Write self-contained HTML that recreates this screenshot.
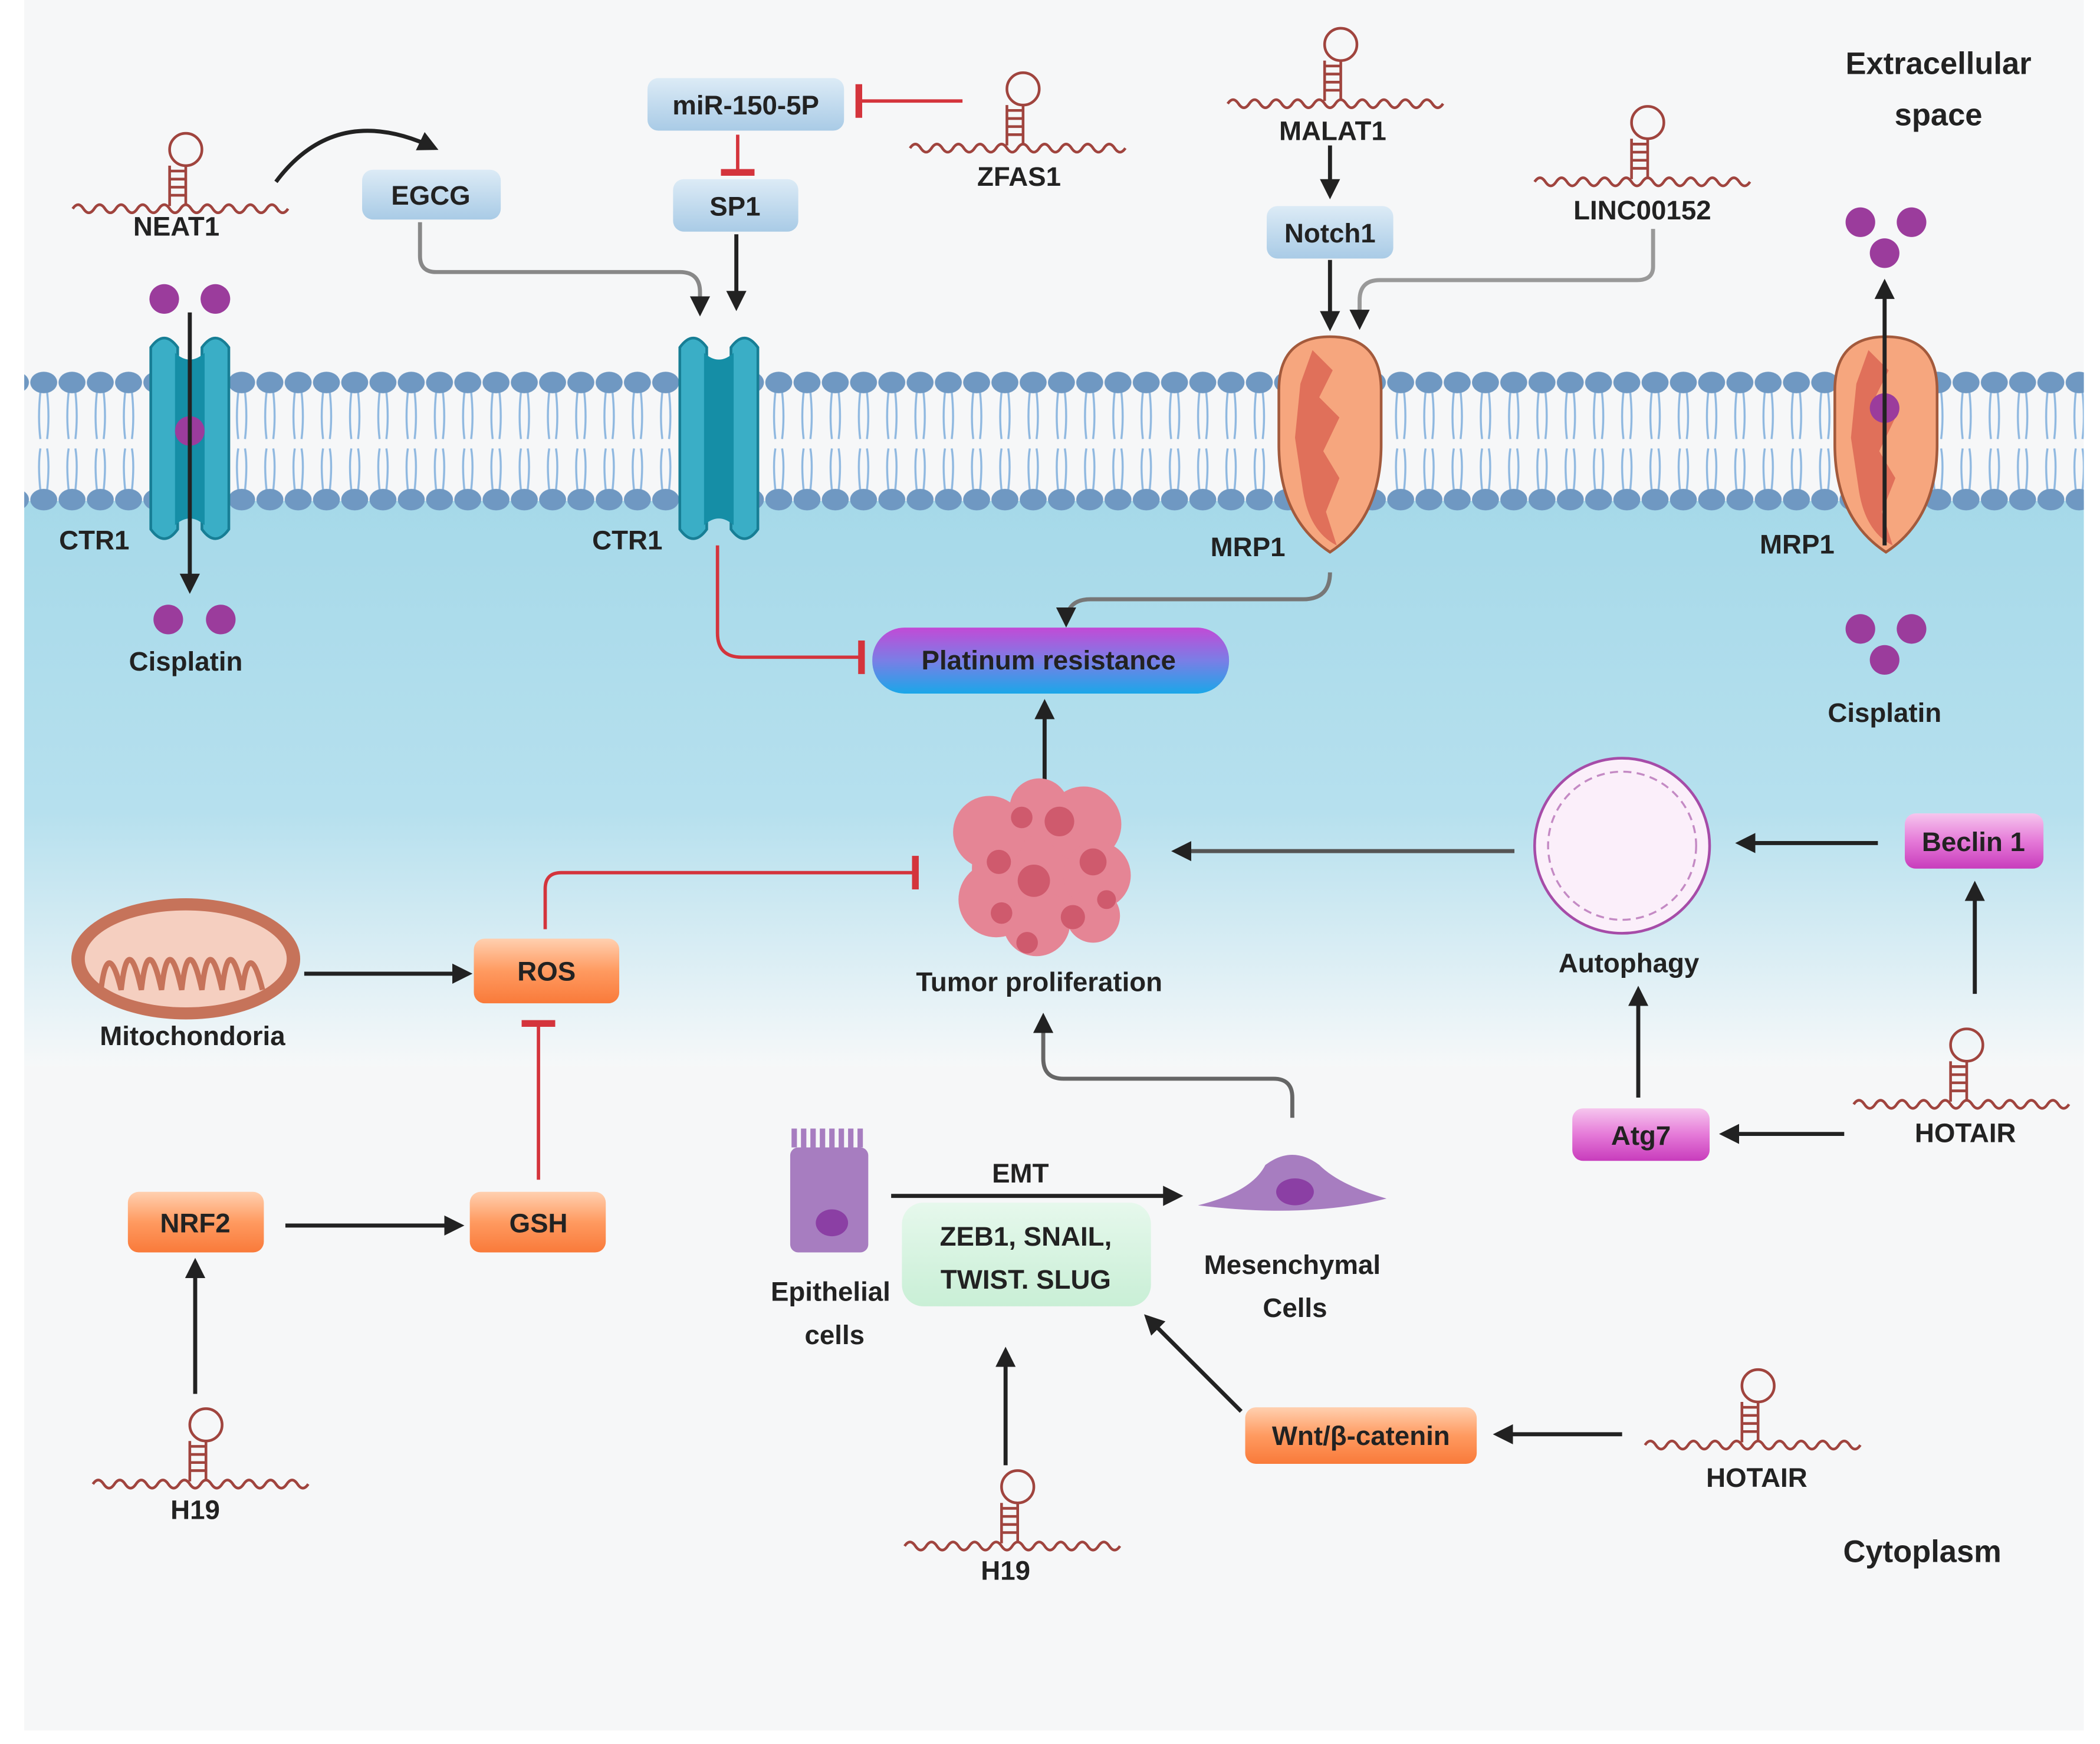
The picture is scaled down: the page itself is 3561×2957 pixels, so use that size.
<!DOCTYPE html>
<html><head><meta charset="utf-8"><style>
html,body{margin:0;padding:0;background:#fff;}
svg{display:block;}
text{font-family:"Liberation Sans",sans-serif;font-weight:bold;fill:#222;}
</style></head><body>
<svg width="3561" height="2957" viewBox="0 0 1560 1295" preserveAspectRatio="none" xmlns="http://www.w3.org/2000/svg">
<defs>
<linearGradient id="cyto" x1="0" y1="0" x2="0" y2="1">
<stop offset="0" stop-color="#a6d9e9"/><stop offset="0.55" stop-color="#b6e0ee"/><stop offset="1" stop-color="#f6f8f9"/></linearGradient>
<linearGradient id="blueBox" x1="0" y1="0" x2="0" y2="1"><stop offset="0" stop-color="#dcebf6"/><stop offset="1" stop-color="#a9cbe6"/></linearGradient>
<linearGradient id="orBox" x1="0" y1="0" x2="0" y2="1"><stop offset="0" stop-color="#ffd0b0"/><stop offset="0.5" stop-color="#ff9a60"/><stop offset="1" stop-color="#f97a3a"/></linearGradient>
<linearGradient id="magBox" x1="0" y1="0" x2="0" y2="1"><stop offset="0" stop-color="#f6c6ee"/><stop offset="0.5" stop-color="#e57ad8"/><stop offset="1" stop-color="#c83cbc"/></linearGradient>
<linearGradient id="plat" x1="0" y1="0" x2="0" y2="1"><stop offset="0" stop-color="#c24ad6"/><stop offset="0.5" stop-color="#7a7ee6"/><stop offset="1" stop-color="#1aa7e8"/></linearGradient>
<linearGradient id="grn" x1="0" y1="0" x2="0" y2="1"><stop offset="0" stop-color="#e6f8ec"/><stop offset="1" stop-color="#c9efd6"/></linearGradient>
<pattern id="lip" x="22" y="0" width="21" height="400" patternUnits="userSpaceOnUse">
<path d="M8 291 Q6 310 8 326 M13 291 Q15 310 13 326 M8 364 Q6 345 8 333 M13 364 Q15 345 13 333" stroke="#8fb8e0" stroke-width="1.5" fill="none"/>
<ellipse cx="10.5" cy="284" rx="10" ry="8" fill="#6f98c2"/>
<ellipse cx="10.5" cy="371" rx="10" ry="8" fill="#6f98c2"/>
</pattern>
<marker id="ah" viewBox="0 0 10 10" refX="8" refY="5" markerWidth="5" markerHeight="5" orient="auto"><path d="M0 0L10 5L0 10z" fill="#222"/></marker>
<marker id="tb" viewBox="0 0 4 20" refX="2" refY="10" markerWidth="2" markerHeight="10" orient="auto"><rect x="0" y="0" width="4" height="20" fill="#d4343c"/></marker>
<g id="rna">
<path d="M-78 10 q4 -6 8 0 t8 0 t8 0 t8 0 t8 0 t8 0 t8 0 t8 0 t8 0 t8 0 t8 0 t8 0 t8 0 t8 0 t8 0 t8 0 t8 0 t8 0 t8 0 t8 0" stroke="#a0443e" stroke-width="2" fill="none"/>
<path d="M-6 8 L-6 -22 M6 8 L6 -22 M-6 0H6 M-6 -6H6 M-6 -12H6 M-6 -18H6" stroke="#a0443e" stroke-width="2" fill="none"/>
<circle cx="6" cy="-34" r="12" stroke="#a0443e" stroke-width="2" fill="none"/>
</g>
</defs>
<rect x="0" y="0" width="1560" height="1295" fill="#fff"/>
<rect x="18" y="0" width="1530" height="1285" fill="#f6f7f8"/>
<rect x="18" y="372" width="1530" height="420" fill="url(#cyto)"/>
<rect x="18" y="272" width="1530" height="110" fill="url(#lip)"/>

<g id="ctr">
<path d="M112 258 q10 -14 20 0 v135 q-10 14 -20 0z" fill="#3aaec6" stroke="#177e95" stroke-width="2"/>
<path d="M150 258 q10 -14 20 0 v135 q-10 14 -20 0z" fill="#3aaec6" stroke="#177e95" stroke-width="2"/>
<path d="M130 262 q11 10 22 0 v128 q-11 -10 -22 0z" fill="#158ea6"/>
</g>
<use href="#ctr" x="393"/>
<g id="mrp">
<path d="M950 290 q0 -40 38 -40 q38 0 38 40 v40 q0 55 -38 80 q-38 -25 -38 -80z" fill="#f6a67e" stroke="#a35a3c" stroke-width="2"/>
<path d="M975 260 l15 15 -10 20 15 15 -12 25 12 20 -10 25 8 25 q-20 -10 -25 -40 l-6 -40 4 -40z" fill="#e0705a"/>
</g>
<use href="#mrp" x="413"/>

<g fill="#9b3c9c">
<circle cx="122" cy="222" r="11"/><circle cx="160" cy="222" r="11"/><circle cx="141" cy="320" r="11"/>
<circle cx="125" cy="460" r="11"/><circle cx="164" cy="460" r="11"/>
<circle cx="1382" cy="165" r="11"/><circle cx="1420" cy="165" r="11"/><circle cx="1400" cy="188" r="11"/>
<circle cx="1400" cy="303" r="11"/>
<circle cx="1382" cy="467" r="11"/><circle cx="1420" cy="467" r="11"/><circle cx="1400" cy="490" r="11"/>
</g>

<g stroke="#222" stroke-width="3" fill="none">
<path d="M141 232 V438" marker-end="url(#ah)"/>
<path d="M1400 405 V210" marker-end="url(#ah)"/>
<path d="M205 135 Q250 75 323 110" marker-end="url(#ah)"/>
<path d="M312 165 V190 q0 12 12 12 H505 q15 0 15 15 V232" stroke="#888" marker-end="url(#ah)"/>
<path d="M547 174 V228" marker-end="url(#ah)"/>
<path d="M988 108 V145" marker-end="url(#ah)"/>
<path d="M988 193 V243" marker-end="url(#ah)"/>
<path d="M1228 170 V198 q0 10 -12 10 H1025 q-15 0 -15 15 V242" stroke="#999" marker-end="url(#ah)"/>
<path d="M988 425 q0 20 -20 20 H810 q-18 0 -18 18" stroke="#777" marker-end="url(#ah)"/>
<path d="M776 585 V522" marker-end="url(#ah)"/>
<path d="M1125 632 H873" stroke="#555" marker-end="url(#ah)"/>
<path d="M1395 626 H1292" marker-end="url(#ah)"/>
<path d="M1467 738 V657" marker-end="url(#ah)"/>
<path d="M1217 815 V735" marker-end="url(#ah)"/>
<path d="M1370 842 H1280" marker-end="url(#ah)"/>
<path d="M226 723 H348" marker-end="url(#ah)"/>
<path d="M212 910 H342" marker-end="url(#ah)"/>
<path d="M145 1035 V937" marker-end="url(#ah)"/>
<path d="M662 888 H876" marker-end="url(#ah)"/>
<path d="M960 830 V815 q0 -14 -14 -14 H790 q-15 0 -15 -15 V755" stroke="#666" marker-end="url(#ah)"/>
<path d="M747 1088 V1003" marker-end="url(#ah)"/>
<path d="M922 1048 L852 978" marker-end="url(#ah)"/>
<path d="M1205 1065 H1112" marker-end="url(#ah)"/>
</g>
<g stroke="#d4343c" stroke-width="2.5" fill="none">
<path d="M715 75 H638" marker-end="url(#tb)"/>
<path d="M548 100 V128" marker-end="url(#tb)"/>
<path d="M533 405 V470 q0 18 18 18 H640" marker-end="url(#tb)"/>
<path d="M405 690 V660 q0 -12 12 -12 H680" marker-end="url(#tb)"/>
<path d="M400 876 V760" marker-end="url(#tb)"/>
</g>

<rect x="481" y="58" width="146" height="39" rx="8" fill="url(#blueBox)"/>
<text x="554" y="85" font-size="20" text-anchor="middle">miR-150-5P</text>
<rect x="500" y="133" width="93" height="39" rx="8" fill="url(#blueBox)"/>
<text x="546" y="160" font-size="20" text-anchor="middle">SP1</text>
<rect x="269" y="126" width="103" height="37" rx="8" fill="url(#blueBox)"/>
<text x="320" y="152" font-size="20" text-anchor="middle">EGCG</text>
<rect x="941" y="153" width="94" height="39" rx="8" fill="url(#blueBox)"/>
<text x="988" y="180" font-size="20" text-anchor="middle">Notch1</text>
<rect x="648" y="466" width="265" height="49" rx="24" fill="url(#plat)"/>
<text x="779" y="497" font-size="20" text-anchor="middle">Platinum resistance</text>
<rect x="352" y="697" width="108" height="48" rx="8" fill="url(#orBox)"/>
<text x="406" y="728" font-size="20" text-anchor="middle">ROS</text>
<rect x="95" y="885" width="101" height="45" rx="8" fill="url(#orBox)"/>
<text x="145" y="915" font-size="20" text-anchor="middle">NRF2</text>
<rect x="349" y="885" width="101" height="45" rx="8" fill="url(#orBox)"/>
<text x="400" y="915" font-size="20" text-anchor="middle">GSH</text>
<rect x="925" y="1045" width="172" height="42" rx="8" fill="url(#orBox)"/>
<text x="1011" y="1073" font-size="20" text-anchor="middle">Wnt/β-catenin</text>
<rect x="1415" y="604" width="103" height="41" rx="8" fill="url(#magBox)"/>
<text x="1466" y="632" font-size="20" text-anchor="middle">Beclin 1</text>
<rect x="1168" y="823" width="102" height="39" rx="8" fill="url(#magBox)"/>
<text x="1219" y="850" font-size="20" text-anchor="middle">Atg7</text>
<rect x="670" y="893" width="185" height="77" rx="16" fill="url(#grn)"/>
<text x="762" y="925" font-size="20" text-anchor="middle">ZEB1, SNAIL,</text>
<text x="762" y="957" font-size="20" text-anchor="middle">TWIST. SLUG</text>

<g fill="#e58595">
<circle cx="772" cy="645" r="50"/><circle cx="735" cy="618" r="27"/><circle cx="805" cy="612" r="28"/><circle cx="740" cy="668" r="28"/><circle cx="815" cy="650" r="25"/><circle cx="772" cy="600" r="22"/><circle cx="770" cy="685" r="25"/><circle cx="812" cy="680" r="20"/>
</g>
<g fill="#cf5a6d"><circle cx="787" cy="610" r="11"/><circle cx="759" cy="607" r="8"/><circle cx="742" cy="640" r="9"/><circle cx="1035" cy="0" r="0"/><circle cx="812" cy="640" r="10"/><circle cx="768" cy="654" r="12"/><circle cx="744" cy="678" r="8"/><circle cx="797" cy="681" r="9"/><circle cx="822" cy="668" r="7"/><circle cx="763" cy="700" r="8"/></g>
<circle cx="1205" cy="628" r="65" fill="#fbeffa" stroke="#a64ca8" stroke-width="2"/>
<circle cx="1205" cy="628" r="55" fill="none" stroke="#c48ac4" stroke-width="1.5" stroke-dasharray="6 4"/>
<ellipse cx="138" cy="712" rx="85" ry="45" fill="#c6735a"/>
<ellipse cx="138" cy="712" rx="75" ry="36" fill="#f5cfc0"/>
<path d="M75 735 q5 -40 15 0 q5 -45 15 0 q5 -45 15 0 q5 -45 15 0 q5 -45 15 0 q5 -45 15 0 q5 -45 15 0 q5 -40 15 0" stroke="#c6735a" stroke-width="4" fill="none"/>
<rect x="587" y="852" width="58" height="78" rx="6" fill="#a77dc0"/>
<path d="M590 852 v-14 M597 852 v-14 M604 852 v-14 M611 852 v-14 M618 852 v-14 M625 852 v-14 M632 852 v-14 M639 852 v-14" stroke="#a77dc0" stroke-width="4"/>
<ellipse cx="618" cy="908" rx="12" ry="10" fill="#8b3fa4"/>
<path d="M890 895 q40 -10 50 -30 q20 -15 40 0 q15 15 50 25 q-60 15 -140 5z" fill="#a77dc0"/>
<ellipse cx="962" cy="885" rx="14" ry="10" fill="#8b3fa4"/>

<use href="#rna" x="132" y="145"/>
<use href="#rna" x="754" y="100"/>
<use href="#rna" x="990" y="67"/>
<use href="#rna" x="1218" y="125"/>
<use href="#rna" x="1455" y="810"/>
<use href="#rna" x="1300" y="1063"/>
<use href="#rna" x="147" y="1092"/>
<use href="#rna" x="750" y="1138"/>

<g font-size="20" text-anchor="middle">
<text x="131" y="175">NEAT1</text>
<text x="757" y="138">ZFAS1</text>
<text x="990" y="104">MALAT1</text>
<text x="1220" y="163">LINC00152</text>
<text x="1460" y="848">HOTAIR</text>
<text x="1305" y="1104">HOTAIR</text>
<text x="145" y="1128">H19</text>
<text x="747" y="1173">H19</text>
<text x="70" y="408">CTR1</text>
<text x="466" y="408">CTR1</text>
<text x="927" y="413">MRP1</text>
<text x="1335" y="411">MRP1</text>
<text x="138" y="498">Cisplatin</text>
<text x="1400" y="536">Cisplatin</text>
<text x="772" y="736">Tumor proliferation</text>
<text x="1210" y="722">Autophagy</text>
<text x="143" y="776">Mitochondoria</text>
<text x="758" y="878">EMT</text>
<text x="617" y="966">Epithelial</text>
<text x="620" y="998">cells</text>
<text x="960" y="946">Mesenchymal</text>
<text x="962" y="978">Cells</text>
<text x="1440" y="55" font-size="23">Extracellular</text>
<text x="1440" y="93" font-size="23">space</text>
<text x="1428" y="1160" font-size="23">Cytoplasm</text>
</g>
</svg>
</body></html>
